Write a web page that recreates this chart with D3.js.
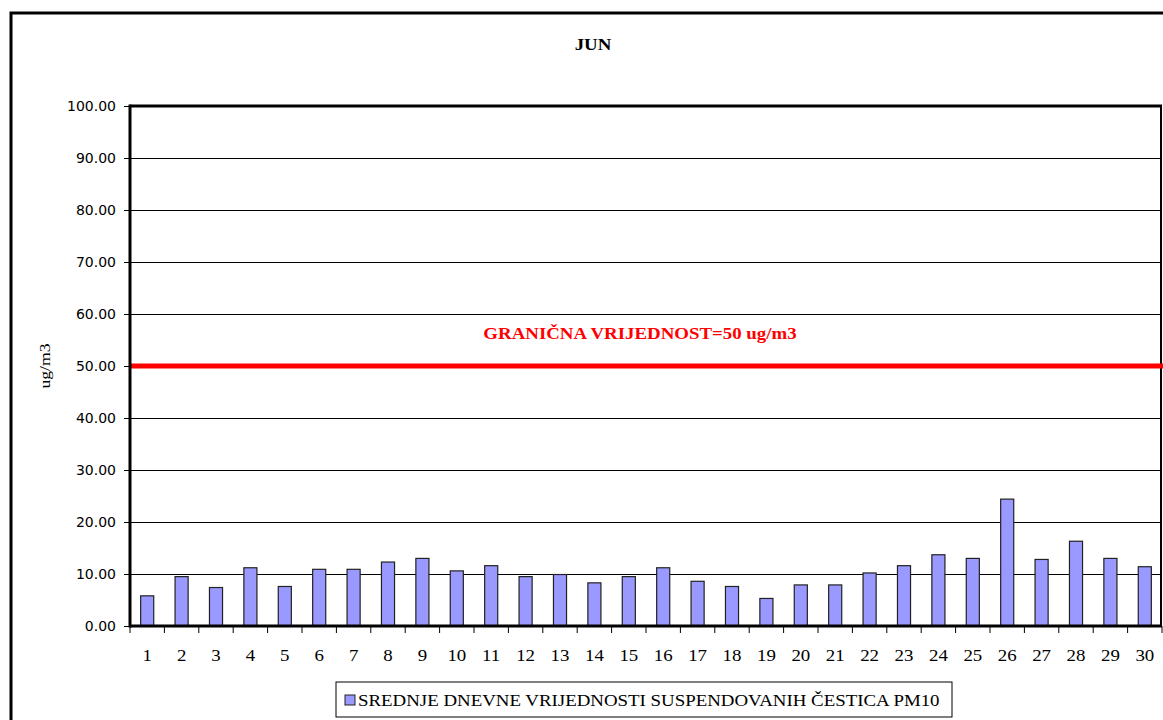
<!DOCTYPE html>
<html>
<head>
<meta charset="utf-8">
<script src="https://cdn.jsdelivr.net/npm/d3@7"></script>
<style>
    body { margin: 0; background: #fff; }
    svg { display: block; }
</style>
</head>
<body>
<div id="chart"></div>
<script>
// Days of June and the daily PM10 means
var days = d3.range(1, 31).map(String);
var pm10Values = [5.8, 9.5, 7.4, 11.2, 7.6, 10.9, 10.9, 12.3, 13.0, 10.6,
                  11.6, 9.5, 9.9, 8.3, 9.5, 11.2, 8.6, 7.6, 5.3, 7.9,
                  7.9, 10.2, 11.6, 13.7, 13.0, 24.4, 12.8, 16.3, 13.0, 11.4];
var yTicks = [0, 10, 20, 30, 40, 50, 60, 70, 80, 90, 100];
var limitValue = 50;
var limitLabel = "GRANIČNA VRIJEDNOST=50 ug/m3";
var seriesName = "SREDNJE DNEVNE VRIJEDNOSTI SUSPENDOVANIH ČESTICA PM10";
var chartTitle = "JUN";
var yTitle = "ug/m3";

var W = 1163, H = 720;
var margin = {top: 106, right: 1, bottom: 94, left: 130};
var width = W - margin.left - margin.right;
var height = H - margin.top - margin.bottom;
var serif = "'Liberation Serif', 'Times New Roman', serif";
var stretch = 1.18; // the original text is drawn a bit wider than Times

var svg = d3.select("#chart").append("svg")
    .attr("width", W)
    .attr("height", H);

// places a text at (x, y), widened horizontally like the original
function wideText(parent, x, y, rotate) {
    return parent.append("text")
        .attr("transform", "translate(" + x + "," + y + ")" +
            (rotate ? "rotate(" + rotate + ")" : "") + "scale(" + stretch + ",1)");
}

// outer chart frame (right and bottom edges fall off the picture)
svg.append("rect")
    .attr("x", 11).attr("y", 13)
    .attr("width", 1200).attr("height", 800)
    .attr("fill", "none")
    .attr("stroke", "#000")
    .attr("stroke-width", 3);

// title
wideText(svg, 593, 50)
    .attr("text-anchor", "middle")
    .style("font-family", serif)
    .style("font-weight", "bold")
    .style("font-size", "16px")
    .text(chartTitle);

var g = svg.append("g")
    .attr("transform", "translate(" + margin.left + "," + margin.top + ")");

var x = d3.scaleBand()
    .domain(days)
    .range([0, width])
    .paddingInner(0.62)
    .paddingOuter(0.31);

var y = d3.scaleLinear()
    .domain([0, 100])
    .range([height, 0]);

// gridlines
g.selectAll("line.grid")
    .data(yTicks.slice(1, -1))
    .enter().append("line")
    .attr("class", "grid")
    .attr("x1", 0).attr("x2", width)
    .attr("y1", function (d) { return y(d) + 0.5; })
    .attr("y2", function (d) { return y(d) + 0.5; })
    .attr("stroke", "#000")
    .attr("stroke-width", 1);

// plot frame (top and right)
g.append("line")
    .attr("x1", 0).attr("x2", width)
    .attr("y1", 0).attr("y2", 0)
    .attr("stroke", "#000").attr("stroke-width", 3);
g.append("line")
    .attr("x1", width - 1).attr("x2", width - 1)
    .attr("y1", 0).attr("y2", height)
    .attr("stroke", "#000").attr("stroke-width", 2);

// bars
g.selectAll("rect.bar")
    .data(pm10Values)
    .enter().append("rect")
    .attr("class", "bar")
    .attr("x", function (d, i) { return x(days[i]); })
    .attr("y", function (d) { return y(d); })
    .attr("width", x.bandwidth())
    .attr("height", function (d) { return height - y(d); })
    .attr("fill", "#9999ff")
    .attr("stroke", "#222")
    .attr("stroke-width", 1.2);

// limit line
g.append("line")
    .attr("x1", 0).attr("x2", width + 5)
    .attr("y1", y(limitValue)).attr("y2", y(limitValue))
    .attr("stroke", "#ff0000")
    .attr("stroke-width", 5);

wideText(g, 510, y(limitValue) - 27)
    .attr("text-anchor", "middle")
    .attr("fill", "#ff0000")
    .style("font-family", serif)
    .style("font-weight", "bold")
    .style("font-size", "16px")
    .text(limitLabel);

// y axis
var yAxis = g.append("g")
    .call(d3.axisLeft(y).tickValues(yTicks).tickFormat(d3.format(".2f")).tickSize(6).tickPadding(8));
yAxis.select(".domain").remove();
yAxis.selectAll("text")
    .style("font-family", "'DejaVu Sans', sans-serif")
    .style("font-size", "14px")
    .attr("fill", "#000");
g.append("line")
    .attr("x1", 0).attr("x2", 0)
    .attr("y1", -1.5).attr("y2", height + 1.5)
    .attr("stroke", "#000").attr("stroke-width", 3);

// x axis: ticks sit between categories
var xAxis = g.append("g")
    .attr("transform", "translate(0," + height + ")");
xAxis.selectAll("line.tick")
    .data(d3.range(0, days.length + 1))
    .enter().append("line")
    .attr("class", "tick")
    .attr("x1", function (i) { return i * x.step(); })
    .attr("x2", function (i) { return i * x.step(); })
    .attr("y1", 0).attr("y2", 7)
    .attr("stroke", "#000");
days.forEach(function (d) {
    wideText(xAxis, x(d) + x.bandwidth() / 2, 35)
        .attr("text-anchor", "middle")
        .style("font-family", serif)
        .style("font-size", "16px")
        .text(d);
});
g.append("line")
    .attr("x1", 0).attr("x2", width)
    .attr("y1", height).attr("y2", height)
    .attr("stroke", "#000").attr("stroke-width", 3);

// y title
wideText(svg, 50, 366, -90)
    .attr("text-anchor", "middle")
    .style("font-family", serif)
    .style("font-size", "15px")
    .text(yTitle);

// legend
var legend = svg.append("g").attr("transform", "translate(336,682)");
legend.append("rect")
    .attr("width", 616).attr("height", 35)
    .attr("fill", "#fff")
    .attr("stroke", "#000")
    .attr("stroke-width", 1);
legend.append("rect")
    .attr("x", 9).attr("y", 13)
    .attr("width", 10).attr("height", 10)
    .attr("fill", "#9999ff")
    .attr("stroke", "#222");
wideText(legend, 22, 24)
    .style("font-family", serif)
    .style("font-size", "16px")
    .text(seriesName);
</script>
</body>
</html>
